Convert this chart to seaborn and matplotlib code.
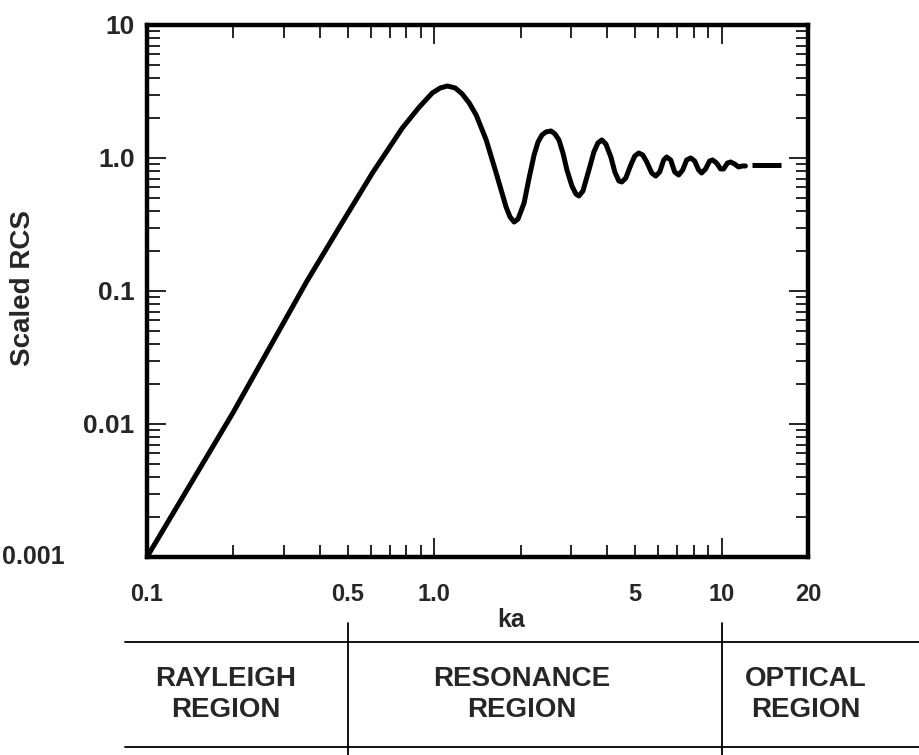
import numpy as np
import pandas as pd
import seaborn as sns
import matplotlib.pyplot as plt
from matplotlib.ticker import FixedLocator, FixedFormatter

ka_vals = [0.1, 0.199, 0.359, 0.468, 0.609, 0.774, 0.887, 0.984,
           1.049, 1.110, 1.183, 1.251, 1.323, 1.399, 1.516, 1.642, 1.778, 1.836,
           1.896, 1.957, 2.054, 2.138, 2.225, 2.297, 2.371, 2.448, 2.548, 2.631,
           2.716, 2.805, 2.896, 3.014, 3.112, 3.188, 3.292, 3.453, 3.594, 3.711,
           3.831, 3.956, 4.118, 4.251, 4.390, 4.496, 4.642, 4.831, 4.988, 5.150,
           5.318, 5.490, 5.714, 5.900, 6.091, 6.290, 6.442, 6.652, 6.868, 7.091,
           7.322, 7.560, 7.806, 8.060, 8.322, 8.522, 8.799, 9.085, 9.307, 9.609,
           9.920, 10.16, 10.49, 10.75, 11.10, 11.46, 11.83, 12.11]
rcs_vals = [0.001, 0.0121, 0.117, 0.303, 0.771, 1.681, 2.418, 3.082,
            3.360, 3.478, 3.360, 3.029, 2.591, 2.105, 1.366, 0.771, 0.428, 0.360,
            0.330, 0.348, 0.459, 0.707, 1.053, 1.319, 1.489, 1.569, 1.596, 1.516,
            1.366, 1.090, 0.812, 0.616, 0.536, 0.518, 0.565, 0.812, 1.110, 1.297,
            1.366, 1.274, 1.017, 0.785, 0.672, 0.660, 0.707, 0.886, 1.035, 1.090,
            1.053, 0.933, 0.771, 0.732, 0.785, 0.966, 1.017, 0.966, 0.785, 0.745,
            0.812, 0.966, 1.000, 0.949, 0.812, 0.771, 0.827, 0.949, 0.966, 0.917,
            0.827, 0.827, 0.917, 0.933, 0.901, 0.856, 0.871, 0.871]
# optical limit dash
tail_ka = [12.72, 16.16]
tail_rcs = [0.886, 0.886]

x_major = [0.1, 1.0, 10.0, 20.0]
x_major_labels = ['0.1', '1.0', '10', '20']
x_minor = [0.2, 0.3, 0.4, 0.5, 0.6, 0.7, 0.8, 0.9, 2, 3, 4, 5, 6, 7, 8, 9]
x_minor_labels = ['', '', '', '0.5', '', '', '', '', '', '', '', '5', '', '', '', '']
y_major = [0.001, 0.01, 0.1, 1.0, 10.0]
y_major_labels = ['0.001', '0.01', '0.1', '1.0', '10']

region_names = ['RAYLEIGH\nREGION', 'RESONANCE\nREGION', 'OPTICAL\nREGION']
region_bounds = [0.5, 10.0]

sns.set_style("ticks")
plt.rcParams['font.family'] = ['Liberation Sans', 'DejaVu Sans']
plt.rcParams['font.weight'] = 'bold'

fig = plt.figure(figsize=(9.2, 7.55), dpi=100)
ax = fig.add_axes([0.1598, 0.2623, 0.7185, 0.7046])

curveDf = pd.DataFrame({'ka': ka_vals, 'rcs': rcs_vals})
tailDf = pd.DataFrame({'ka': tail_ka, 'rcs': tail_rcs})
sns.lineplot(data=curveDf, x='ka', y='rcs', sort=False, color='black', lw=3.6,
             ax=ax, solid_joinstyle='round', solid_capstyle='round')
sns.lineplot(data=tailDf, x='ka', y='rcs', sort=False, color='black', lw=3.6,
             ax=ax, solid_capstyle='butt')

ax.set_xscale('log')
ax.set_yscale('log')
ax.set_xlim(0.1, 20)
ax.set_ylim(0.001, 10)

ax.xaxis.set_major_locator(FixedLocator(x_major))
ax.xaxis.set_major_formatter(FixedFormatter(x_major_labels))
ax.xaxis.set_minor_locator(FixedLocator(x_minor))
ax.xaxis.set_minor_formatter(FixedFormatter(x_minor_labels))
ax.yaxis.set_major_locator(FixedLocator(y_major))
# the bottom label sits further left in the original, drawn separately below
ax.yaxis.set_major_formatter(FixedFormatter([''] + y_major_labels[1:]))
ax.yaxis.set_minor_locator(FixedLocator(
    [m * d for d in [0.001, 0.01, 0.1, 1.0] for m in range(2, 10)]))
ax.yaxis.set_minor_formatter(FixedFormatter([''] * 32))

for side in ['top', 'right', 'bottom', 'left']:
    ax.spines[side].set_visible(True)
    ax.spines[side].set_linewidth(3.2)
    ax.spines[side].set_color('black')

ax.tick_params(which='both', direction='in', top=True, right=True,
               width=1.2, color='black')
ax.tick_params(which='major', length=14)
ax.tick_params(which='minor', length=9)
ax.tick_params(axis='x', which='both', pad=19, labelsize=17)
ax.tick_params(axis='y', which='both', pad=9, labelsize=19)
for lab in ax.get_xticklabels(which='both') + ax.get_yticklabels():
    lab.set_fontweight('bold')

ax.text(-0.219, y_major[0], y_major_labels[0], transform=ax.get_yaxis_transform(),
        ha='left', va='center', fontsize=18, fontweight='bold')

ax.set_xlabel('ka', fontsize=18, fontweight='bold', va='center')
ax.xaxis.set_label_coords(0.551, -0.118)
ax.set_ylabel('Scaled RCS', fontsize=20, fontweight='bold', va='center')
ax.yaxis.set_label_coords(-0.188, 0.506)

# region table under the plot
trans = ax.get_xaxis_transform()
for yy in [-0.160, -0.357]:
    ax.plot([-0.033, 1.169], [yy, yy], transform=ax.transAxes, color='black',
            lw=1.3, clip_on=False)
for xb in region_bounds:
    ax.plot([xb, xb], [-0.124, -0.38], transform=trans, color='black',
            lw=1.3, clip_on=False)
for name, xc in zip(region_names, [0.1195, 0.567, 0.997]):
    ax.text(xc, -0.259, name, transform=ax.transAxes, ha='center', va='center',
            fontsize=20, fontweight='bold', linespacing=1.25)

plt.savefig('out.png', dpi=100)
